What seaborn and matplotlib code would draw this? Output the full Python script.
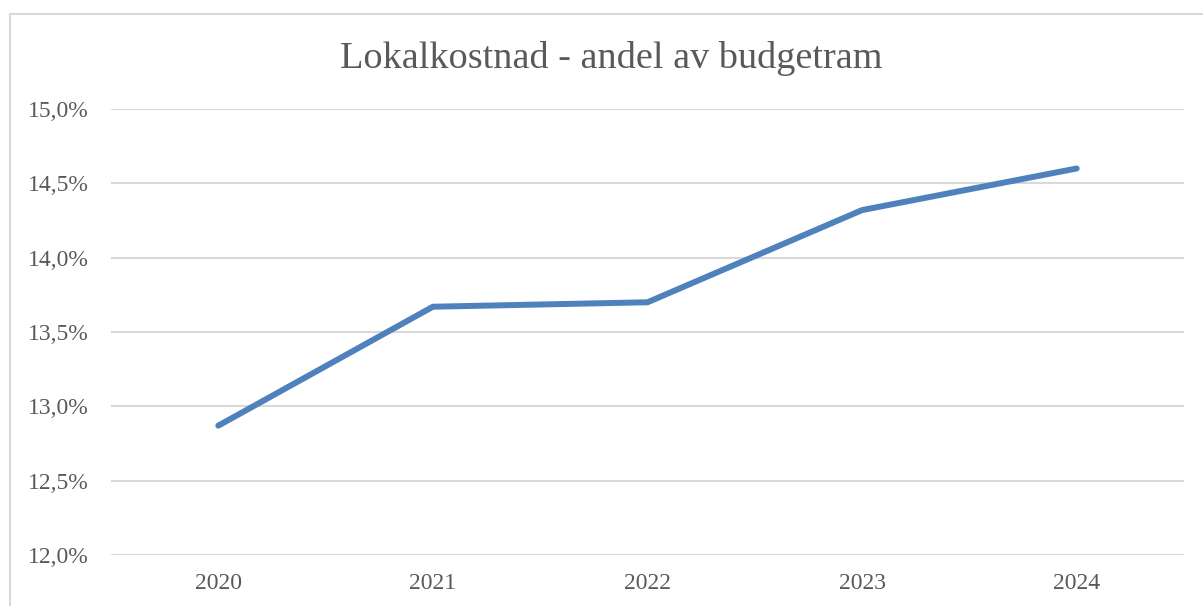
import pandas as pd
import matplotlib.pyplot as plt
import seaborn as sns
from matplotlib.patches import Rectangle
from matplotlib.ticker import FuncFormatter

years = ['2020', '2021', '2022', '2023', '2024']
share = [12.87, 13.67, 13.70, 14.32, 14.60]
y_ticks = [12.0, 12.5, 13.0, 13.5, 14.0, 14.5, 15.0]
title = 'Lokalkostnad - andel av budgetram'

GREY = '#595959'
GRID = '#D9D9D9'
BLUE = '#4F81BD'


def main():
    sns.set_style('white')
    plt.rcParams['font.family'] = ['Liberation Serif', 'DejaVu Serif']

    df = pd.DataFrame({'year': years, 'share': share})

    fig = plt.figure(figsize=(12.03, 6.06), dpi=100)
    ax = fig.add_axes([111 / 1203, 1 - 555 / 606, (1184 - 111) / 1203, (555 - 109) / 606])

    sns.lineplot(data=df, x='year', y='share', ax=ax, color=BLUE, linewidth=4.3,
                 solid_capstyle='round', solid_joinstyle='round', sort=False)

    ax.set_xlim(-0.5, 4.5)
    ax.set_ylim(12.0, 15.0)
    ax.set_yticks(y_ticks)
    ax.yaxis.set_major_formatter(FuncFormatter(lambda v, p: f'{v:.1f}%'.replace('.', ',')))
    ax.grid(axis='y', color=GRID, linewidth=1.5)
    ax.set_axisbelow(True)
    for s in ax.spines.values():
        s.set_visible(False)
    ax.tick_params(axis='y', length=0, pad=16, labelsize=17, labelcolor=GREY)
    ax.tick_params(axis='x', length=0, pad=13, labelsize=17, labelcolor=GREY)
    ax.set_xlabel('')
    ax.set_ylabel('')

    fig.text(611 / 1203, 1 - 59 / 606, title, ha='center', va='center',
             fontsize=27.5, color=GREY)

    # chart frame, cut off at right and bottom like the screenshot
    fig.patches.append(Rectangle((10 / 1203, -0.2), 1.2, 1.2 - 14 / 606,
                                 transform=fig.transFigure, fill=False,
                                 edgecolor=GRID, linewidth=1.5))

    fig.savefig('out.png', dpi=100)
    plt.close(fig)


if __name__ == '__main__':
    main()
